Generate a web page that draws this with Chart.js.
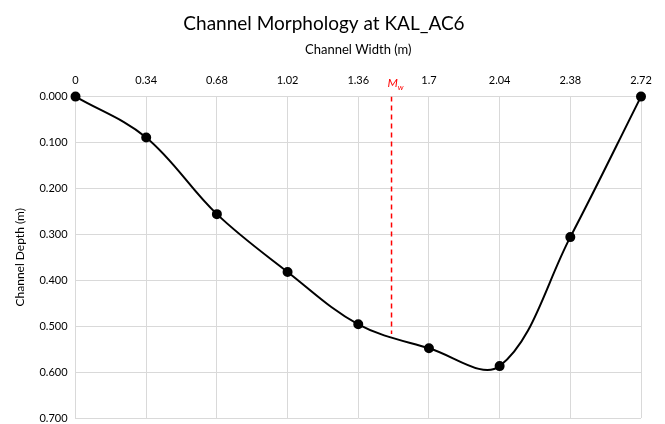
<!DOCTYPE html>
<html>
<head>
<meta charset="utf-8">
<script src="https://cdn.jsdelivr.net/npm/chart.js@4/dist/chart.umd.min.js"></script>
<style>
  html, body { margin: 0; padding: 0; background: #fff; }
  #wrap { width: 665px; height: 424px; }
</style>
</head>
<body>
<div id="wrap"><canvas id="c" width="665" height="424"></canvas></div>
<script>
// ── Data ─────────────────────────────────────────────────────────
const widths = [0, 0.34, 0.68, 1.02, 1.36, 1.7, 2.04, 2.38, 2.72];
const depths = [0, 0.089, 0.256, 0.382, 0.496, 0.548, 0.587, 0.306, 0];
const xTicks = [0, 0.34, 0.68, 1.02, 1.36, 1.7, 2.04, 2.38, 2.72];
const yTicks = [0, 0.1, 0.2, 0.3, 0.4, 0.5, 0.6, 0.7];
const mwX = 1.52;
const mwDepth = 0.517;

const FONT = "Lato, 'Open Sans', sans-serif";
Chart.defaults.font.family = FONT;
Chart.defaults.color = '#000';

// ── M_w label above the dashed line ──────────────────────────────
const mwLabel = {
  id: 'mwLabel',
  afterDraw(chart) {
    const { ctx, scales } = chart;
    const x = scales.x.getPixelForValue(mwX);
    const y = scales.x.bottom - 14;
    ctx.save();
    ctx.fillStyle = '#ff0000';
    ctx.textBaseline = 'alphabetic';
    ctx.font = 'italic 12px ' + FONT;
    const w = ctx.measureText('M').width;
    ctx.fillText('M', x - 4, y + 4);
    ctx.font = 'italic 8px ' + FONT;
    ctx.fillText('w', x - 4 + w, y + 7);
    ctx.restore();
  }
};

new Chart(document.getElementById('c'), {
  type: 'scatter',
  data: {
    datasets: [
      {
        label: 'Profile',
        data: widths.map((w, i) => ({ x: w, y: depths[i] })),
        showLine: true,
        clip: false,
        borderColor: '#000',
        backgroundColor: '#000',
        borderWidth: 2,
        pointRadius: 4,
        tension: 0.36
      },
      {
        label: 'Mw',
        data: [{ x: mwX, y: 0 }, { x: mwX, y: mwDepth }],
        showLine: true,
        borderColor: '#ff0000',
        borderWidth: 1.5,
        borderDash: [5, 4],
        pointRadius: 0
      }
    ]
  },
  options: {
    responsive: false,
    animation: false,
    layout: { padding: { left: 7, right: 24, top: 4, bottom: 1 } },
    plugins: {
      legend: { display: false },
      tooltip: { enabled: false },
      title: {
        display: true,
        text: 'Channel Morphology at KAL_AC6',
        font: { size: 19, weight: 'normal' },
        color: '#000',
        padding: { top: 8, bottom: 7 }
      }
    },
    scales: {
      x: {
        type: 'linear',
        position: 'top',
        min: 0, max: 2.72,
        afterBuildTicks: ax => { ax.ticks = xTicks.map(v => ({ value: v })); },
        ticks: {
          autoSkip: false, maxRotation: 0, padding: 10,
          font: { size: 11 }, color: '#000',
          callback: v => String(+v.toFixed(2))
        },
        grid: { color: '#d9d9d9', lineWidth: 1, drawTicks: false },
        border: { color: '#d9d9d9' },
        title: {
          display: true, text: 'Channel Width (m)',
          font: { size: 13 }, color: '#000',
          padding: { top: 0, bottom: 6 }
        }
      },
      y: {
        type: 'linear',
        reverse: true,
        min: 0, max: 0.7,
        afterBuildTicks: ax => { ax.ticks = yTicks.map(v => ({ value: v })); },
        afterFit: ax => { ax.paddingBottom = 6; },
        ticks: {
          padding: 8, font: { size: 11, lineHeight: 1 }, color: '#000',
          callback: v => v.toFixed(3)
        },
        grid: { color: '#d9d9d9', lineWidth: 1, drawTicks: false },
        border: { color: '#d9d9d9' },
        title: {
          display: true, text: 'Channel Depth (m)',
          font: { size: 12 }, color: '#000',
          padding: { top: 6, bottom: 4 }
        }
      }
    }
  },
  plugins: [mwLabel]
});
</script>
</body>
</html>
